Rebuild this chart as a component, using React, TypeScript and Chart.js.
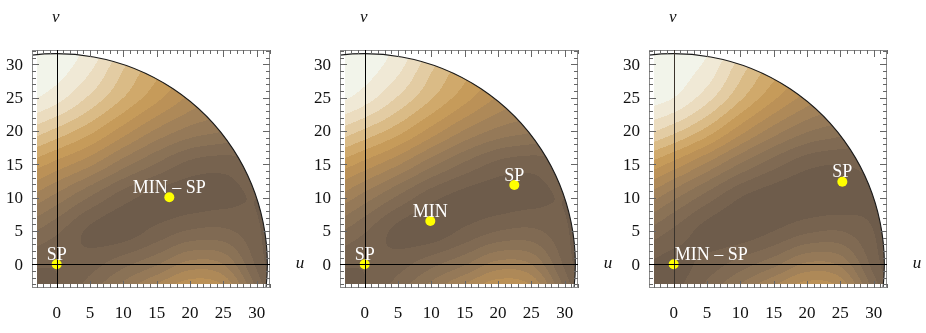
import React, { useEffect, useRef } from "react";
import { Chart, registerables } from "chart.js";
Chart.register(...registerables);

// ---- axes / domain ----
const RADIUS = 31.6;
const X_MIN = -3.7;
const X_MAX = 32.0;
const Y_MIN = -3.55;
const Y_MAX = 32.15;
const FILL_MIN = -2.9;
const MAJOR_TICKS = [0, 5, 10, 15, 20, 25, 30];
const MINOR_TICKS = [-3, -2, -1, 0, 1, 2, 3, 4, 5, 6, 7, 8, 9, 10, 11, 12, 13, 14, 15, 16, 17, 18, 19, 20, 21, 22, 23, 24, 25, 26, 27, 28, 29, 30, 31, 32];

// ---- contour field samples (level index) ----
const GRID_U = [-5, 0, 5, 10, 15, 20, 25, 30, 35];
const GRID_V = [35, 30, 25, 20, 15, 10, 5, 0, -5];

const LEVELS_1 = [
  [15.5, 15.5, 15, 13.8, 12, 10.3, 9, 8, 6],
  [15.5, 15.5, 14.3, 12.2, 10.5, 9.2, 8, 6.5, 5],
  [15.3, 14.4, 12.8, 11, 9.3, 7.8, 6.8, 5.5, 4],
  [12.8, 11.7, 10.3, 8.5, 6.8, 5.6, 5, 4.2, 3],
  [9.8, 8.6, 7.2, 5.4, 3.9, 2.7, 2.4, 2.8, 2],
  [7, 5.6, 3.9, 2.4, 1.6, 1.5, 1.7, 2, 1],
  [4.3, 3.2, 1.8, 1.5, 2.3, 3.1, 3.2, 2.2, 0.5],
  [2.2, 2.1, 2.6, 3.7, 4.9, 6.4, 6, 2.8, 0],
  [1.3, 2, 3.8, 6, 8.2, 9.6, 8.8, 4.2, 0],
];
const LEVELS_2 = [
  [15.5, 15.5, 15, 13.9, 12.1, 10.4, 9.1, 8.1, 6.1],
  [15.5, 15.5, 14.4, 12.3, 10.6, 9.3, 8.1, 6.6, 5.1],
  [15.4, 14.5, 12.9, 11.1, 9.4, 7.9, 6.9, 5.6, 4.1],
  [12.9, 11.8, 10.4, 8.6, 6.9, 5.7, 5.1, 4.3, 3.1],
  [9.8, 8.6, 7.1, 5.3, 3.8, 2.7, 2.4, 2.8, 2],
  [7, 5.5, 3.8, 2.3, 1.6, 1.5, 1.7, 2, 1],
  [4.3, 3.1, 1.7, 1.4, 2.2, 3, 3.2, 2.2, 0.5],
  [2.2, 2.1, 2.6, 3.7, 4.9, 6.4, 6, 2.8, 0],
  [1.3, 2, 3.8, 6, 8.2, 9.6, 8.8, 4.2, 0],
];
const LEVELS_3 = [
  [15.5, 15.5, 15.3, 14.2, 12.4, 10.5, 9, 7.8, 5.8],
  [15.5, 15.5, 14.8, 12.6, 10.7, 9.2, 7.8, 6.2, 4.6],
  [15.5, 15, 13.4, 11.2, 9.2, 7.6, 6.4, 5, 3.6],
  [13.4, 12.3, 10.6, 8.4, 6.5, 5.1, 4.4, 3.6, 2.6],
  [10, 8.6, 6.8, 4.9, 3.4, 2.3, 2, 2.3, 1.6],
  [6.8, 5.2, 3.5, 2, 1.4, 1.3, 1.4, 1.7, 0.8],
  [4, 2.8, 1.6, 1.4, 2, 2.8, 3, 2, 0.4],
  [2, 1.6, 2.4, 3.5, 4.7, 6.2, 5.8, 2.6, 0],
  [1.2, 1.8, 3.6, 5.8, 8, 9.4, 8.6, 4, 0],
];

const PALETTE = [
  "#665545", "#6e5c4b", "#77634f", "#806a53", "#8a7256", "#957958",
  "#a18159", "#ae8958", "#bb9157", "#c69b5a", "#d0a96b", "#dabb86",
  "#e3cca3", "#ebdcbf", "#f0e9d6", "#f2f4ea",
];

// ---- marked points ----
const P1_U = [0, 16.9];
const P1_V = [0, 10.05];
const P1_LABELS = ["SP", "MIN – SP"];
const P1_ALIGN = ["center", "center"];

const P2_U = [0, 9.85, 22.45];
const P2_V = [0, 6.5, 11.9];
const P2_LABELS = ["SP", "MIN", "SP"];
const P2_ALIGN = ["center", "center", "center"];

const P3_U = [0, 25.3];
const P3_V = [0, 12.4];
const P3_LABELS = ["MIN – SP", "SP"];
const P3_ALIGN = ["left", "center"];

const PANELS = [
  { left: 0, levels: LEVELS_1, u: P1_U, v: P1_V, labels: P1_LABELS, align: P1_ALIGN, vAxisColor: "#000" },
  { left: 308, levels: LEVELS_2, u: P2_U, v: P2_V, labels: P2_LABELS, align: P2_ALIGN, vAxisColor: "#000" },
  { left: 617, levels: LEVELS_3, u: P3_U, v: P3_V, labels: P3_LABELS, align: P3_ALIGN, vAxisColor: "#3a332c" },
];

const W = 309;
const H = 333;
const SERIF = '"Liberation Serif", "Times New Roman", serif';

function hexToRgb(h: string) {
  const n = parseInt(h.slice(1), 16);
  return [(n >> 16) & 255, (n >> 8) & 255, n & 255];
}
const PAL_RGB = PALETTE.map(hexToRgb);

function cr(p0: number, p1: number, p2: number, p3: number, t: number) {
  return 0.5 * (2 * p1 + (-p0 + p2) * t + (2 * p0 - 5 * p1 + 4 * p2 - p3) * t * t + (-p0 + 3 * p1 - 3 * p2 + p3) * t * t * t);
}

function sample(grid: number[][], u: number, v: number) {
  const nU = GRID_U.length;
  const nV = GRID_V.length;
  const gi = (u - GRID_U[0]) / (GRID_U[1] - GRID_U[0]);
  const gj = (v - GRID_V[0]) / (GRID_V[1] - GRID_V[0]);
  const i0 = Math.floor(gi);
  const j0 = Math.floor(gj);
  const tx = gi - i0;
  const ty = gj - j0;
  const ci = (i: number) => Math.max(0, Math.min(nU - 1, i));
  const cj = (j: number) => Math.max(0, Math.min(nV - 1, j));
  const rows: number[] = [];
  for (let k = -1; k <= 2; k++) {
    const row = grid[cj(j0 + k)];
    rows.push(cr(row[ci(i0 - 1)], row[ci(i0)], row[ci(i0 + 1)], row[ci(i0 + 2)], tx));
  }
  return cr(rows[0], rows[1], rows[2], rows[3], ty);
}

function makePlugin(panel: any) {
  return {
    id: "contourPanel",
    beforeDatasetsDraw(chart: any) {
      const ctx = chart.ctx as CanvasRenderingContext2D;
      const area = chart.chartArea;
      const xs = chart.scales.x;
      const ys = chart.scales.y;
      const x0 = Math.round(area.left);
      const y0 = Math.round(area.top);
      const w = Math.round(area.right - area.left);
      const h = Math.round(area.bottom - area.top);
      const ppu = xs.getPixelForValue(1) - xs.getPixelForValue(0);
      const off = document.createElement("canvas");
      off.width = w;
      off.height = h;
      const octx = off.getContext("2d")!;
      const img = octx.createImageData(w, h);
      for (let py = 0; py < h; py++) {
        const v = ys.getValueForPixel(y0 + py + 0.5);
        for (let px = 0; px < w; px++) {
          const u = xs.getValueForPixel(x0 + px + 0.5);
          if (u < FILL_MIN || v < FILL_MIN) continue;
          const r = Math.sqrt(u * u + v * v);
          const d = (RADIUS - r) * ppu + 0.5;
          if (d <= 0) continue;
          const val = sample(panel.levels, u, v);
          const b = Math.max(0, Math.min(PALETTE.length - 1, Math.floor(val)));
          const c = PAL_RGB[b];
          const idx = (py * w + px) * 4;
          img.data[idx] = c[0];
          img.data[idx + 1] = c[1];
          img.data[idx + 2] = c[2];
          img.data[idx + 3] = Math.round(255 * Math.min(1, d));
        }
      }
      octx.putImageData(img, 0, 0);
      ctx.save();
      ctx.drawImage(off, x0, y0);

      // disk boundary
      ctx.beginPath();
      ctx.rect(area.left, area.top, area.right - area.left, area.bottom - area.top);
      ctx.clip();
      const cx = xs.getPixelForValue(0);
      const cy = ys.getPixelForValue(0);
      ctx.beginPath();
      ctx.arc(cx, cy, RADIUS * ppu, -Math.PI / 2 - 0.2, 0.2);
      ctx.strokeStyle = "#1a1a1a";
      ctx.lineWidth = 1.1;
      ctx.stroke();
      ctx.restore();

      // frame & ticks
      ctx.save();
      ctx.strokeStyle = "#8a8a8a";
      ctx.lineWidth = 1;
      ctx.strokeRect(area.left + 0.5, area.top + 0.5, area.right - area.left - 1, area.bottom - area.top - 1);
      ctx.strokeStyle = "#666";
      ctx.beginPath();
      MINOR_TICKS.forEach((t) => {
        const major = MAJOR_TICKS.indexOf(t) >= 0;
        const len = major ? 7 : 4;
        const px = Math.round(xs.getPixelForValue(t)) + 0.5;
        ctx.moveTo(px, area.bottom);
        ctx.lineTo(px, area.bottom - len);
        ctx.moveTo(px, area.top);
        ctx.lineTo(px, area.top + len);
        const py = Math.round(ys.getPixelForValue(t)) + 0.5;
        ctx.moveTo(area.left, py);
        ctx.lineTo(area.left + len, py);
        ctx.moveTo(area.right, py);
        ctx.lineTo(area.right - len, py);
      });
      ctx.stroke();
      ctx.restore();
    },
    afterDatasetsDraw(chart: any) {
      const ctx = chart.ctx as CanvasRenderingContext2D;
      const area = chart.chartArea;
      const xs = chart.scales.x;
      const ys = chart.scales.y;
      const ox = Math.round(xs.getPixelForValue(0)) + 0.5;
      const oy = Math.round(ys.getPixelForValue(0)) + 0.5;
      ctx.save();
      // axes through origin
      ctx.lineWidth = 1;
      ctx.strokeStyle = panel.vAxisColor;
      ctx.beginPath();
      ctx.moveTo(ox, area.top);
      ctx.lineTo(ox, area.bottom);
      ctx.stroke();
      ctx.strokeStyle = "#000";
      ctx.beginPath();
      ctx.moveTo(area.left, oy);
      ctx.lineTo(area.right, oy);
      ctx.stroke();

      // point labels
      ctx.fillStyle = "#ffffff";
      ctx.font = `18px ${SERIF}`;
      ctx.textBaseline = "middle";
      panel.labels.forEach((lab: string, i: number) => {
        const px = xs.getPixelForValue(panel.u[i]);
        const py = ys.getPixelForValue(panel.v[i]);
        if (panel.align[i] === "left") {
          ctx.textAlign = "left";
          ctx.fillText(lab, px + 1, py - 9);
        } else {
          ctx.textAlign = "center";
          ctx.fillText(lab, px, py - 9);
        }
      });

      // tick labels
      ctx.fillStyle = "#111";
      ctx.font = `17px ${SERIF}`;
      ctx.textAlign = "center";
      ctx.textBaseline = "middle";
      MAJOR_TICKS.forEach((t) => {
        ctx.fillText(String(t), xs.getPixelForValue(t), area.bottom + 26);
      });
      ctx.textAlign = "right";
      MAJOR_TICKS.forEach((t) => {
        ctx.fillText(String(t), area.left - 9, ys.getPixelForValue(t) + 1);
      });

      // axis labels
      ctx.font = `italic 17px ${SERIF}`;
      ctx.textAlign = "center";
      ctx.fillText("v", xs.getPixelForValue(0) - 1, 18);
      ctx.fillText("u", area.right + 30, ys.getPixelForValue(0) - 1);
      ctx.restore();
    },
  };
}

function Panel({ panel }: { panel: any }) {
  const ref = useRef<HTMLCanvasElement | null>(null);
  useEffect(() => {
    if (!ref.current) return;
    const chart = new Chart(ref.current, {
      type: "scatter",
      data: {
        datasets: [
          {
            data: panel.u.map((x: number, i: number) => ({ x, y: panel.v[i] })),
            backgroundColor: "#ffff00",
            borderColor: "#ffff00",
            borderWidth: 0,
            pointRadius: 5,
          },
        ],
      },
      options: {
        responsive: false,
        animation: false,
        layout: { padding: { left: 32, right: W - 270, top: 50, bottom: H - 288 } },
        plugins: { legend: { display: false }, tooltip: { enabled: false } },
        scales: {
          x: { type: "linear", min: X_MIN, max: X_MAX, display: false },
          y: { type: "linear", min: Y_MIN, max: Y_MAX, display: false },
        },
      },
      plugins: [makePlugin(panel)],
    });
    return () => chart.destroy();
  }, [panel]);
  return (
    <canvas
      ref={ref}
      width={W}
      height={H}
      style={{ position: "absolute", left: panel.left, top: 0, width: W, height: H }}
    />
  );
}

export default function App() {
  return (
    <div style={{ position: "fixed", left: 0, top: 0, width: 926, height: 333, background: "#fff", overflow: "hidden" }}>
      {PANELS.map((p, i) => (
        <Panel key={i} panel={p} />
      ))}
    </div>
  );
}
